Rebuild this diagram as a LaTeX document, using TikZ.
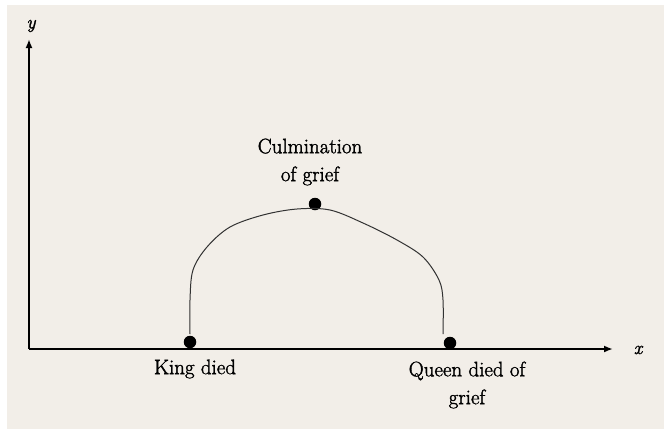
\documentclass[tikz,border=0pt]{standalone}
\usepackage{fontspec}
\usetikzlibrary{arrows.meta}
\newfontfamily\heavyfont{Latin Modern Roman}[FakeBold=1.6]
\newfontfamily\heavyital{Latin Modern Roman}[FakeBold=1.6,UprightFont=*/I]
\definecolor{panel}{RGB}{242,238,232}
\definecolor{curvecol}{RGB}{50,50,50}
\begin{document}
\begin{tikzpicture}[x=1bp,y=-1bp,
  axis/.style={line width=1.8bp,-{Latex[length=9bp,width=7bp]}},
  dot/.style={circle,fill=black,inner sep=0pt,minimum size=12.5bp},
  lbl/.style={font=\heavyfont\fontsize{21}{28}\selectfont,align=center,inner sep=0pt},
  axlbl/.style={font=\heavyfont\itshape\fontsize{19}{20}\selectfont,inner sep=0pt}]
\useasboundingbox (0,0) rectangle (664,429);
\fill[white] (0,0) rectangle (664,429);
\fill[panel] (7,5) rectangle (664,429);
% axes
\coordinate (o) at (29,349);
\coordinate (xe) at (613,349);
\coordinate (ye) at (29,39);
\draw[axis] (o) -- (xe);
\draw[axis] (o) -- (ye);
\node[axlbl] (xl) at (638,350) {x};
\node[axlbl] (yl) at (31,26) {y};
% points
\node[dot] (king) at (190,342) {};
\node[dot] (queen) at (450,343) {};
\node[dot] (peak) at (315,204) {};
% curve
\draw[curvecol,line width=1bp] plot[smooth,tension=0.55] coordinates {
 (190,334) (190,300) (193,270) (207,247) (230,227) (263,215) (297,209)
 (330,210) (363,223) (397,240) (423,257) (439,280) (443,300) (443,334)};
% labels
\node[lbl] (kl) at (195,369) {King died};
\node[lbl] (ql) at (467,385) {Queen died of\\grief};
\node[lbl] (pl) at (310,162) {Culmination\\of grief};
\end{tikzpicture}
\end{document}
